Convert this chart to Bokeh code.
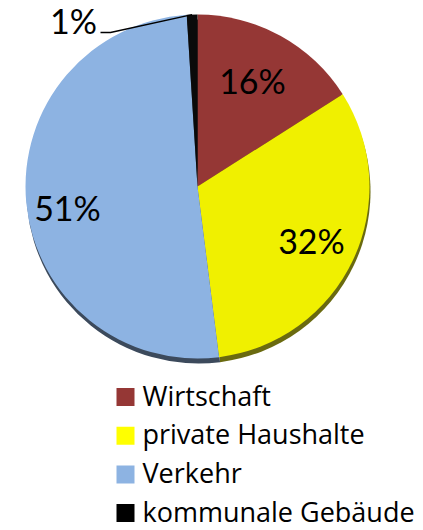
import math
from bokeh.plotting import figure
from bokeh.models import Range1d, ColumnDataSource
from bokeh.core.properties import value
from bokeh.embed import file_html
from bokeh.resources import INLINE

categories = ["Wirtschaft", "private Haushalte", "Verkehr", "kommunale Gebäude"]
shares = [16, 32, 51, 1]
labels = ["16%", "32%", "51%", "1%"]
colors = ["#953735", "#F0F000", "#8DB3E2", "#0A0A0A"]
legend_colors = ["#953735", "#FFFF00", "#8DB3E2", "#000000"]
shadow_colors = ["#4a1c1b", "#6a6a10", "#3c4a5c", "#111111"]

W, H = 423, 530
cx, cy, R = 197, 530 - 186, 172
FONT = "Lato"
LEG_FONT = "Open Sans"

total = float(sum(shares))
starts, ends, mids = [], [], []
cum = 0.0
for v in shares:
    a0 = cum / total * 2 * math.pi
    cum += v
    a1 = cum / total * 2 * math.pi
    # clockwise from 12 o'clock -> bokeh anticlockwise from +x
    starts.append(math.pi / 2 - a1)
    ends.append(math.pi / 2 - a0)
    mids.append(math.pi / 2 - (a0 + a1) / 2)

p = figure(width=W, height=H, x_range=Range1d(0, W), y_range=Range1d(0, H),
           output_backend="svg", toolbar_location=None, min_border=0)
p.axis.visible = False
p.grid.visible = False
p.outline_line_color = None
p.background_fill_color = "white"

src = ColumnDataSource(dict(start=starts, end=ends, color=colors, shadow=shadow_colors))

# shadow (3D edge)
p.wedge(x=cx + 1, y=cy - 5, radius=R, start_angle="start", end_angle="end",
        fill_color="shadow", line_color=None, source=src)
p.wedge(x=cx, y=cy, radius=R, start_angle="start", end_angle="end",
        fill_color="color", line_color=None, source=src)

# percentage labels
lab_pos = [(252, 80), (311, 240), (67, 207), (73, 20)]
p.text(x=[q[0] for q in lab_pos], y=[H - q[1] for q in lab_pos], text=labels,
       text_font=value(FONT), text_font_size="34px", text_align="center",
       text_baseline="middle", text_color="#000000")

# leader line for the 1% slice
m = mids[3]
ex, ey = cx + R * math.cos(m), cy + R * math.sin(m)
p.line(x=[100, 110, ex], y=[H - 32, H - 32, ey], line_color="black", line_width=1.3)

# legend drawn manually
row_y = [H - (396.5 + 38.7 * i) for i in range(len(categories))]
leg_src = ColumnDataSource(dict(y=row_y, ty=[y + 2 for y in row_y],
                                color=legend_colors, cat=categories))
p.rect(x=125, y="y", width=18, height=18, fill_color="color", line_color=None,
       source=leg_src)
p.text(x=142, y="ty", text="cat", text_font=value(LEG_FONT), text_font_size="27px",
       text_align="left", text_baseline="middle", text_color="#000000",
       source=leg_src)

open("out.html", "w").write(file_html(p, INLINE))
